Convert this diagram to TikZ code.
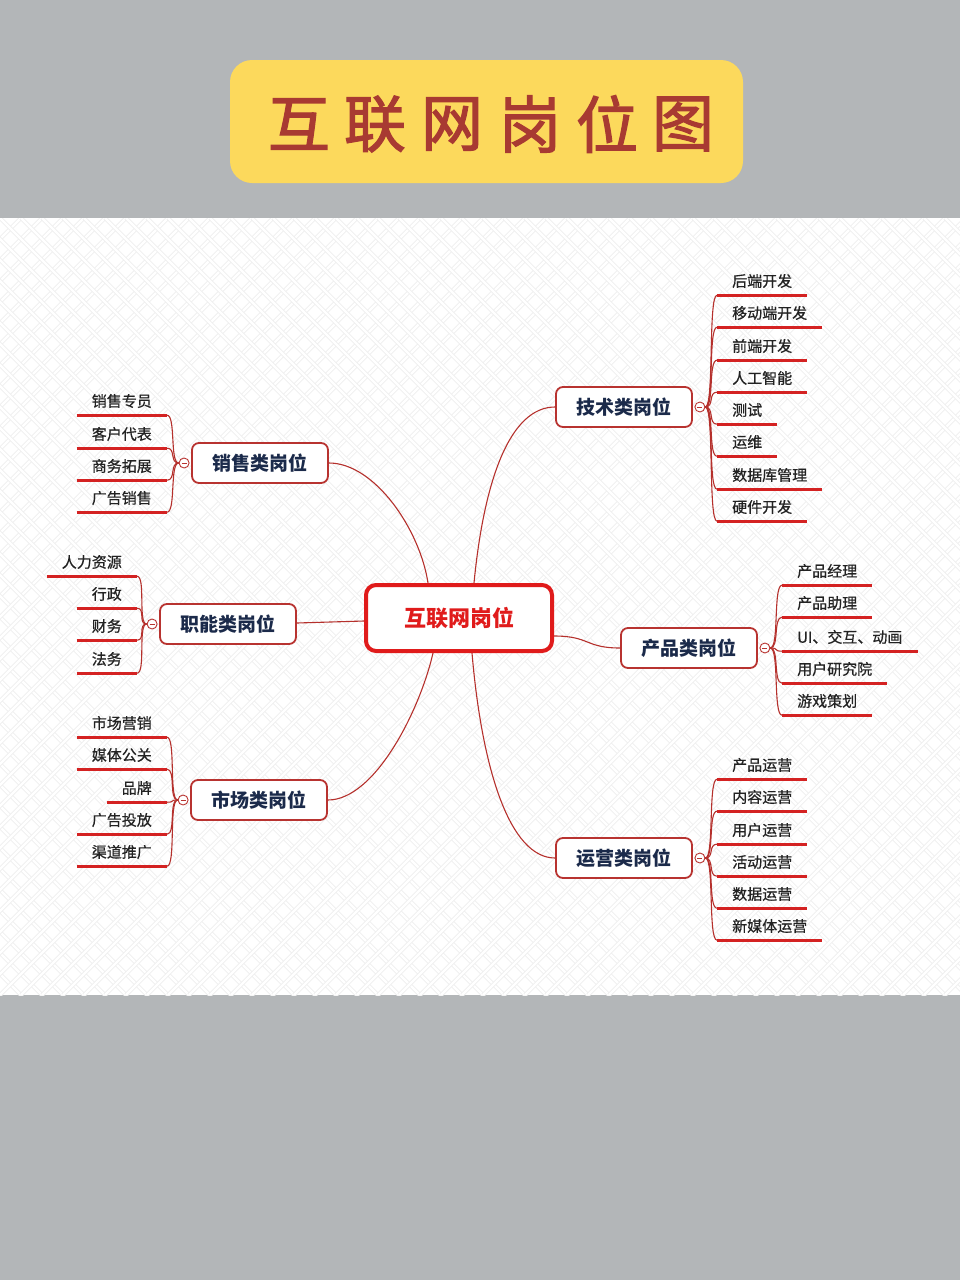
\documentclass[tikz,border=0pt]{standalone}
\usepackage{fontspec}
\newfontfamily\cjk{Noto Sans CJK SC}
\newfontfamily\cjktitle[FakeBold=2]{Noto Sans CJK SC}
\newfontfamily\cjkleaf[FakeBold=0.6]{Noto Sans CJK SC}
\definecolor{bggray}{HTML}{B3B6B8}
\definecolor{titley}{HTML}{FCD95C}
\definecolor{titler}{HTML}{A83A32}
\definecolor{ctrred}{HTML}{E01B1B}
\definecolor{catc}{HTML}{B83330}
\definecolor{connc}{HTML}{B5302C}
\definecolor{ulc}{HTML}{D42222}
\definecolor{navy}{HTML}{1B2A4A}
\definecolor{leaftext}{HTML}{222222}
\definecolor{patc}{HTML}{EFEFEF}
\begin{document}
\begin{tikzpicture}[x=1pt,y=-1pt,
  titlech/.style={text=titler, font=\cjktitle\fontsize{62}{62}\selectfont, inner sep=0pt},
  ctrbox/.style={draw=ctrred, fill=white, line width=4pt, rounded corners=10pt, minimum width=186pt, minimum height=66pt, text=ctrred, font=\cjk\bfseries\fontsize{22}{22}\selectfont},
  catbox/.style={draw=catc, fill=white, line width=1.8pt, rounded corners=7pt, minimum width=136pt, minimum height=40pt, text=navy, font=\cjk\bfseries\fontsize{19}{19}\selectfont},
  circ/.style={circle, draw=catc, fill=white, minimum size=10pt, inner sep=0pt, line width=0.9pt,
    path picture={\draw[catc, line width=0.6pt] ([xshift=-2.5pt]path picture bounding box.center) -- ([xshift=2.5pt]path picture bounding box.center);}},
  leaf/.style={inner xsep=15pt, inner ysep=0pt, minimum height=26pt, text=leaftext, font=\cjkleaf\fontsize{15}{15}\selectfont},
  uline/.style={draw=ulc, line width=3pt},
  conn/.style={draw=connc, line width=1.1pt},
  branch/.style={draw=connc, line width=1.1pt}
]
\useasboundingbox (0,0) rectangle (960,1280);
% backgrounds
\fill[bggray] (0,0) rectangle (960,1280);
\fill[white] (0,218) rectangle (960,995);
\begin{scope}
  \clip (0,218) rectangle (960,995);
  \foreach \i in {-798,-777,...,980} {
    \draw[patc, line width=0.9pt, double=white, double distance=2.2pt] (\i,218) -- (\i+777,995);
    \draw[patc, line width=0.9pt, double=white, double distance=2.2pt] (\i,995) -- (\i+777,218);
  }
\end{scope}
% title
\fill[titley, rounded corners=22pt] (230,60) rectangle (743,183);
\node[titlech] (t1) at (299,124) {互};
\node[titlech] (t2) at (375,124) {联};
\node[titlech] (t3) at (452,124) {网};
\node[titlech] (t4) at (530,124) {岗};
\node[titlech] (t5) at (607,124) {位};
\node[titlech] (t6) at (683,124) {图};

% central and category nodes
\node[ctrbox] (ctr) at (459,618) {互联网岗位};
\node[catbox] (tech) at (624,407) {技术类岗位};
\node[catbox] (sales) at (260,463) {销售类岗位};
\node[catbox] (func) at (228,624) {职能类岗位};
\node[catbox] (prod) at (689,648) {产品类岗位};
\node[catbox] (mkt) at (259,800) {市场类岗位};
\node[catbox] (ops) at (624,858) {运营类岗位};

% connectors from centre
\draw[conn] ([xshift=15pt]ctr.north) .. controls (484,480) and (510,407) .. (tech.west);
\draw[conn] ([xshift=-31pt]ctr.north) .. controls (420,530) and (375,463) .. (sales.east);
\draw[conn] ([yshift=-3pt]ctr.west) -- ([yshift=1pt]func.east);
\draw[conn] ([yshift=-18pt]ctr.east) .. controls (590,636) and (585,648) .. (prod.west);
\draw[conn] ([xshift=-26pt]ctr.south) .. controls (420,710) and (375,800) .. (mkt.east);
\draw[conn] ([xshift=13pt]ctr.south) .. controls (482,770) and (510,858) .. (ops.west);

% collapse circles
\node[circ] (ctech) at ([xshift=7pt]tech.east) {};
\node[circ] (csales) at ([xshift=-7pt]sales.west) {};
\node[circ] (cfunc) at ([xshift=-7pt]func.west) {};
\node[circ] (cprod) at ([xshift=7pt]prod.east) {};
\node[circ] (cmkt) at ([xshift=-7pt]mkt.west) {};
\node[circ] (cops) at ([xshift=7pt]ops.east) {};

% tech leaves
\foreach \n/\y/\t in {a1/281/后端开发, a2/313/移动端开发, a3/346/前端开发, a4/378/人工智能, a5/410/测试, a6/442/运维, a7/475/数据库管理, a8/507/硬件开发} {
  \node[leaf, anchor=west] (\n) at (717,\y) {\t};
  \draw[uline] ([yshift=-1pt]\n.south west) -- ([yshift=-1pt]\n.south east);
  \draw[branch] (ctech.east) .. controls +(9,0) and +(-9,0) .. ([yshift=-1pt]\n.south west);
}
% product leaves
\foreach \n/\y/\t in {b1/571/产品经理, b2/603/产品助理, b3/637/{UI、交互、动画}, b4/669/用户研究院, b5/701/游戏策划} {
  \node[leaf, anchor=west] (\n) at (782,\y) {\t};
  \draw[uline] ([yshift=-1pt]\n.south west) -- ([yshift=-1pt]\n.south east);
  \draw[branch] (cprod.east) .. controls +(9,0) and +(-9,0) .. ([yshift=-1pt]\n.south west);
}
% operations leaves
\foreach \n/\y/\t in {c1/765/产品运营, c2/797/内容运营, c3/830/用户运营, c4/862/活动运营, c5/894/数据运营, c6/926/新媒体运营} {
  \node[leaf, anchor=west] (\n) at (717,\y) {\t};
  \draw[uline] ([yshift=-1pt]\n.south west) -- ([yshift=-1pt]\n.south east);
  \draw[branch] (cops.east) .. controls +(9,0) and +(-9,0) .. ([yshift=-1pt]\n.south west);
}
% sales leaves
\foreach \n/\y/\t in {d1/401/销售专员, d2/434/客户代表, d3/466/商务拓展, d4/498/广告销售} {
  \node[leaf, anchor=east] (\n) at (167,\y) {\t};
  \draw[uline] ([yshift=-1pt]\n.south west) -- ([yshift=-1pt]\n.south east);
  \draw[branch] (csales.west) .. controls +(-9,0) and +(9,0) .. ([yshift=-1pt]\n.south east);
}
% function leaves
\foreach \n/\y/\t in {e1/562/人力资源, e2/594/行政, e3/626/财务, e4/659/法务} {
  \node[leaf, anchor=east] (\n) at (137,\y) {\t};
  \draw[uline] ([yshift=-1pt]\n.south west) -- ([yshift=-1pt]\n.south east);
  \draw[branch] (cfunc.west) .. controls +(-9,0) and +(9,0) .. ([yshift=-1pt]\n.south east);
}
% marketing leaves
\foreach \n/\y/\t in {f1/723/市场营销, f2/755/媒体公关, f3/788/品牌, f4/820/广告投放, f5/852/渠道推广} {
  \node[leaf, anchor=east] (\n) at (167,\y) {\t};
  \draw[uline] ([yshift=-1pt]\n.south west) -- ([yshift=-1pt]\n.south east);
  \draw[branch] (cmkt.west) .. controls +(-9,0) and +(9,0) .. ([yshift=-1pt]\n.south east);
}
\end{tikzpicture}
\end{document}
